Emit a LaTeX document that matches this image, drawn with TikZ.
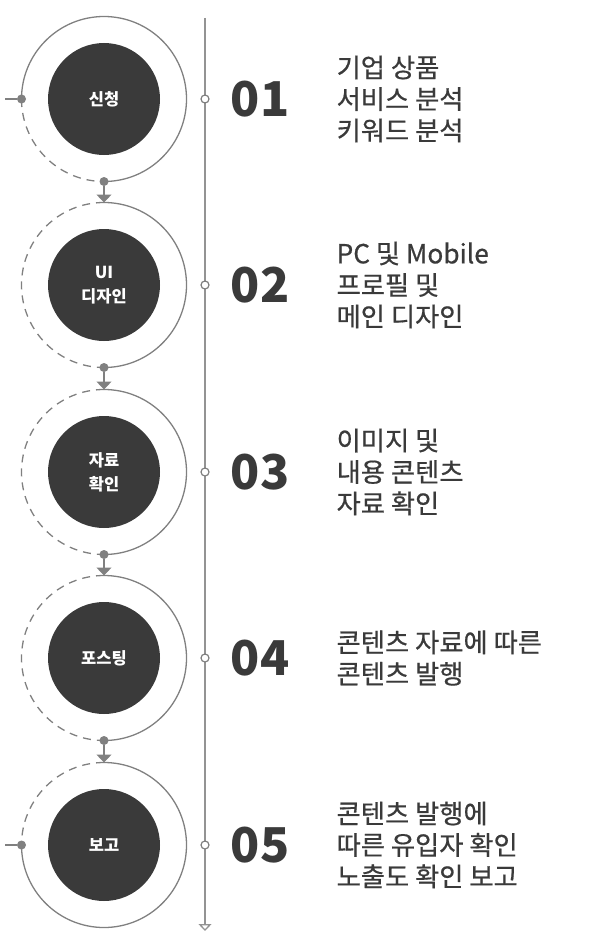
\documentclass[tikz,border=0pt]{standalone}
\usepackage{fontspec}
\setmainfont{Noto Sans CJK KR}
\newfontfamily\tldescfont[FakeBold=0.6]{Noto Sans CJK KR}
\usetikzlibrary{arrows.meta,positioning}
\definecolor{tlink}{HTML}{3A3A3A}
\definecolor{tlgray}{HTML}{808080}
\tikzset{
  tl/ring/.style={circle, minimum size=165pt, inner sep=0pt, outer sep=0pt},
  tl/core/.style={circle, fill=tlink, minimum size=112pt, inner sep=0pt, text=white, align=center, font=\fontsize{16.5}{24}\selectfont\bfseries},
  tl/solid/.style={draw=tlgray, line width=1.3pt},
  tl/dashed/.style={tl/solid, dash pattern=on 8pt off 6pt},
  tl/dot/.style={circle, fill=tlgray, minimum size=9pt, inner sep=0pt},
  tl/link/.style={tl/solid, -{Triangle[width=15pt,length=8pt]}},
  tl/axis/.style={draw=tlgray!85, line width=1.3pt, -{Triangle[open,width=13pt,length=7pt,fill=white]}},
  tl/tick/.style={circle, draw=tlgray, fill=white, line width=1.2pt, minimum size=8pt, inner sep=0pt},
  tl/num/.style={font=\fontsize{48}{48}\selectfont\bfseries, text=tlink, inner sep=0pt},
  tl/desc/.style={font=\tldescfont\fontsize{26.3}{31.5}\selectfont, text=tlink, align=left, inner sep=0pt}
}

\begin{document}
\begin{tikzpicture}[x=1pt, y=1pt, node distance=47pt]
  \useasboundingbox (0,0) rectangle (602,-942);

  % timeline axis
  \coordinate (axtop) at (205,-18);
  \coordinate (axend) at (205,-931);
  \draw[tl/axis] (axtop) -- (axend);

  % rings
  \node[tl/ring] (ring1) at (104,-99) {};
  \node[tl/ring] (ring2) at (104,-285) {};
  \node[tl/ring] (ring3) at (104,-472) {};
  \node[tl/ring] (ring4) at (104,-658) {};
  \node[tl/ring] (ring5) at (104,-845) {};

  \draw[tl/solid] (ring1.south) arc[start angle=-90, end angle=180, radius=82.5pt];
  \draw[tl/dashed] (ring1.west) arc[start angle=180, end angle=270, radius=82.5pt];
  \draw[tl/solid] (ring2.south) arc[start angle=-90, end angle=90, radius=82.5pt];
  \draw[tl/dashed] (ring2.north) arc[start angle=90, end angle=270, radius=82.5pt];
  \draw[tl/solid] (ring3.south) arc[start angle=-90, end angle=90, radius=82.5pt];
  \draw[tl/dashed] (ring3.north) arc[start angle=90, end angle=270, radius=82.5pt];
  \draw[tl/solid] (ring4.south) arc[start angle=-90, end angle=90, radius=82.5pt];
  \draw[tl/dashed] (ring4.north) arc[start angle=90, end angle=270, radius=82.5pt];
  \draw[tl/solid] (ring5.west) arc[start angle=180, end angle=450, radius=82.5pt];
  \draw[tl/dashed] (ring5.north) arc[start angle=90, end angle=180, radius=82.5pt];

  % cores
  \node[tl/core] (core1) at (ring1) {신청};
  \node[tl/core] (core2) at (ring2) {UI\\디자인};
  \node[tl/core] (core3) at (ring3) {자료\\확인};
  \node[tl/core] (core4) at (ring4) {포스팅};
  \node[tl/core] (core5) at (ring5) {보고};

  % dots and links
  \coordinate (in1) at (5,-99);
  \coordinate (in5) at (5,-845);
  \node[tl/dot] (dot1w) at (ring1.west) {};
  \node[tl/dot] (dot5w) at (ring5.west) {};
  \draw[tl/solid] (in1) -- (dot1w);
  \draw[tl/solid] (in5) -- (dot5w);

  \node[tl/dot] (dot1s) at (ring1.south) {};
  \node[tl/dot] (dot2s) at (ring2.south) {};
  \node[tl/dot] (dot3s) at (ring3.south) {};
  \node[tl/dot] (dot4s) at (ring4.south) {};
  \draw[tl/link] (dot1s) -- (ring2.north);
  \draw[tl/link] (dot2s) -- (ring3.north);
  \draw[tl/link] (dot3s) -- (ring4.north);
  \draw[tl/link] (dot4s) -- (ring5.north);

  % ticks on axis
  \node[tl/tick] (tick1) at (205,-99) {};
  \node[tl/tick] (tick2) at (205,-285) {};
  \node[tl/tick] (tick3) at (205,-472) {};
  \node[tl/tick] (tick4) at (205,-658) {};
  \node[tl/tick] (tick5) at (205,-845) {};

  % numbers and descriptions
  \node[tl/num] (num1) at (260,-99) {01};
  \node[tl/num] (num2) at (260,-285) {02};
  \node[tl/num] (num3) at (260,-472) {03};
  \node[tl/num] (num4) at (260,-658) {04};
  \node[tl/num] (num5) at (260,-845) {05};

  \node[tl/desc, right=of num1] (desc1) {기업 상품\\서비스 분석\\키워드 분석};
  \node[tl/desc, right=of num2] (desc2) {PC 및 Mobile\\프로필 및\\메인 디자인};
  \node[tl/desc, right=of num3] (desc3) {이미지 및\\내용 콘텐츠\\자료 확인};
  \node[tl/desc, right=of num4] (desc4) {콘텐츠 자료에 따른\\콘텐츠 발행};
  \node[tl/desc, right=of num5] (desc5) {콘텐츠 발행에\\따른 유입자 확인\\노출도 확인 보고};
\end{tikzpicture}
\end{document}
